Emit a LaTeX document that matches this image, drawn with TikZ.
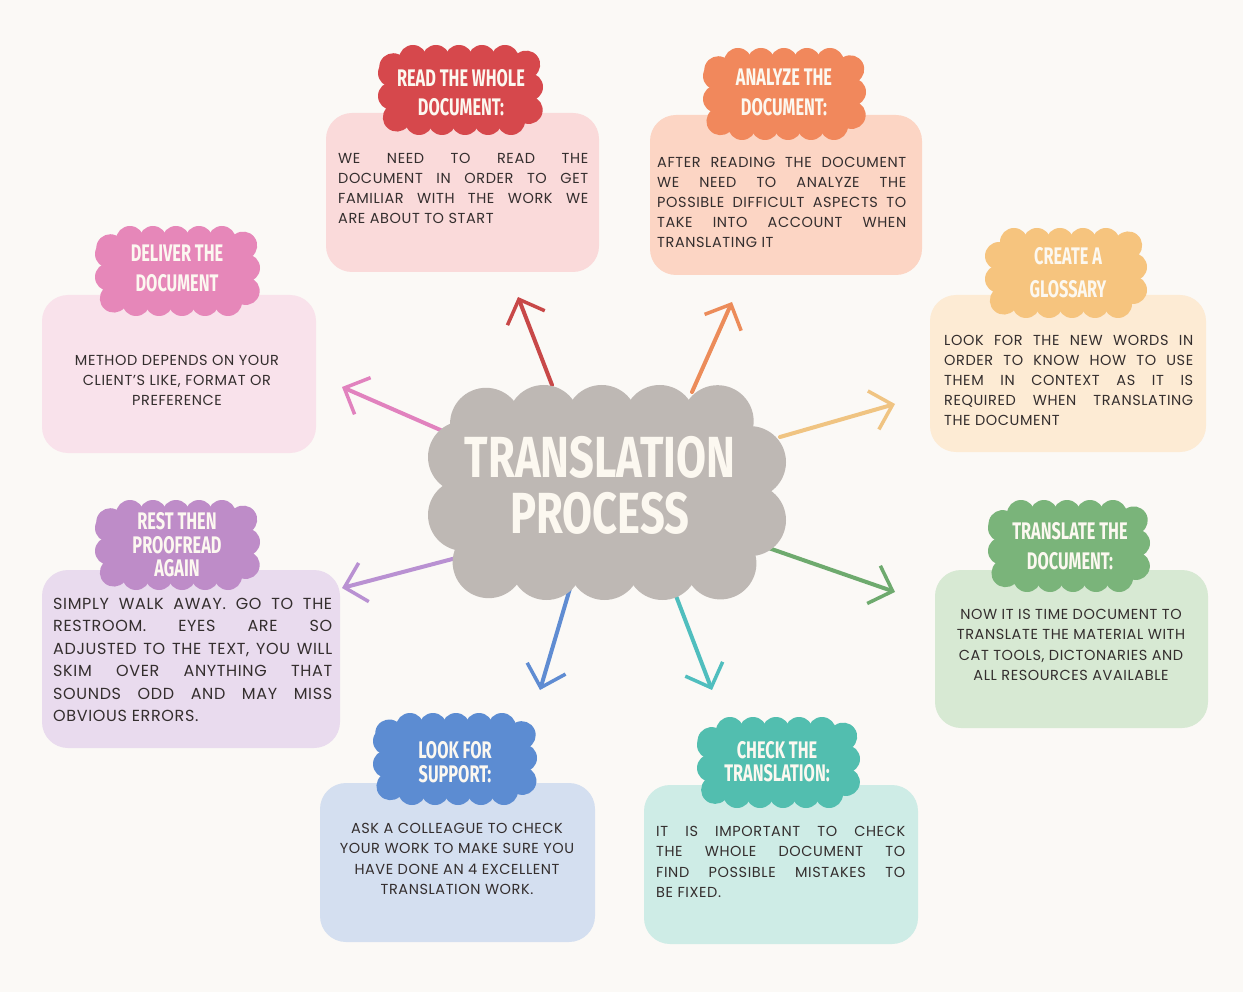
\documentclass[tikz,border=0pt]{standalone}
\usepackage{fontspec}
\setmainfont{Poppins}[LetterSpace=4]
\newfontfamily\headfont[FakeStretch=0.68]{Fira Sans}
\newfontfamily\titlefont[FakeStretch=0.75]{Fira Sans}
\usetikzlibrary{arrows.meta,decorations.markings}

\definecolor{paper}{RGB}{251,249,246}
\definecolor{ink}{RGB}{52,46,46}
\definecolor{headink}{RGB}{252,248,240}
\definecolor{cgrey}{RGB}{190,184,180}
% heading clouds
\definecolor{cred}{RGB}{214,72,76}
\definecolor{corange}{RGB}{241,136,92}
\definecolor{cyellow}{RGB}{246,196,126}
\definecolor{cpink}{RGB}{230,135,185}
\definecolor{cpurple}{RGB}{190,140,200}
\definecolor{cgreen}{RGB}{122,180,122}
\definecolor{cblue}{RGB}{92,140,210}
\definecolor{cteal}{RGB}{82,190,175}
% card fills
\definecolor{fred}{RGB}{250,218,218}
\definecolor{forange}{RGB}{252,213,196}
\definecolor{fyellow}{RGB}{253,235,212}
\definecolor{fpink}{RGB}{249,226,235}
\definecolor{fpurple}{RGB}{233,219,238}
\definecolor{fgreen}{RGB}{215,233,211}
\definecolor{fblue}{RGB}{212,223,240}
\definecolor{fteal}{RGB}{206,236,230}
% arrows
\definecolor{ared}{RGB}{200,72,72}
\definecolor{aorange}{RGB}{236,140,90}
\definecolor{apink}{RGB}{225,130,190}
\definecolor{ayellow}{RGB}{240,196,130}
\definecolor{apurple}{RGB}{185,145,210}
\definecolor{agreen}{RGB}{110,170,110}
\definecolor{ablue}{RGB}{95,140,210}
\definecolor{ateal}{RGB}{80,190,190}

% scalloped cloud: colour, bounding box (x1,y1,x2,y2), bump radius, bump spacing
\newcommand{\puff}[7]{%
  \pgfmathsetmacro{\cxa}{#2+#6}\pgfmathsetmacro{\cya}{#3+#6}%
  \pgfmathsetmacro{\cxb}{#4-#6}\pgfmathsetmacro{\cyb}{#5-#6}%
  \path[fill=#1, rounded corners=#6pt, postaction={decorate},
        decoration={markings, mark=between positions 0 and 0.999 step #7pt with
          {\fill[#1] (0,0) circle (#6pt);}}]
    (\cxa,\cya) rectangle (\cxb,\cyb);
}
% justified line of fixed width
\newcommand{\jl}[2]{\makebox[#1][s]{#2}}

% multi-line nodes are placed by the baseline of their last line
\tikzset{
  card/.style={rounded corners=26pt, inner sep=0pt, draw=none},
  headsty/.style={font=\headfont\bfseries\fontsize{24}{#1}\selectfont, text=headink,
                  align=center, anchor=base, inner sep=0pt},
  bodyjust/.style={font=\fontsize{14.5}{#1}\selectfont, text=ink, align=left,
                   anchor=base west, inner sep=0pt},
  bodymid/.style={font=\fontsize{14.5}{#1}\selectfont, text=ink, align=center,
                  anchor=base, inner sep=0pt},
  arr/.style={line width=4pt, line cap=round,
              -{Straight Barb[length=20pt,width=40pt,line width=3.5pt]}},
}

\begin{document}
\begin{tikzpicture}[x=1pt,y=-1pt]
\useasboundingbox (0,0) rectangle (1243,992);
\fill[paper] (0,0) rectangle (1243,992);

% ---- arrows from the central cloud ----
\coordinate (s1) at (552,385); \coordinate (e1) at (518,297);
\coordinate (s2) at (692,392); \coordinate (e2) at (732,302);
\coordinate (s3) at (445,432); \coordinate (e3) at (342,387);
\coordinate (s4) at (780,437); \coordinate (e4) at (895,404);
\coordinate (s5) at (460,557); \coordinate (e5) at (342,588);
\coordinate (s6) at (760,545); \coordinate (e6) at (895,592);
\coordinate (s7) at (576,568); \coordinate (e7) at (540,690);
\coordinate (s8) at (673,588); \coordinate (e8) at (712,690);
\draw[arr, ared] (s1) -- (e1);
\draw[arr, aorange] (s2) -- (e2);
\draw[arr, apink] (s3) -- (e3);
\draw[arr, ayellow] (s4) -- (e4);
\draw[arr, apurple] (s5) -- (e5);
\draw[arr, agreen] (s6) -- (e6);
\draw[arr, ablue] (s7) -- (e7);
\draw[arr, ateal] (s8) -- (e8);

% ---- central cloud ----
\puff{cgrey}{428}{385}{786}{600}{36}{58}
\node[font=\titlefont\bfseries\fontsize{58}{56}\selectfont, text=headink, align=center,
      anchor=base, inner sep=0pt] (title) at (600,533) {TRANSLATION\\PROCESS};

% ---- cards ----
\node[card, fill=fred, minimum width=273pt, minimum height=159pt] (b1) at (462.5,192.5) {};
\node[card, fill=forange, minimum width=272pt, minimum height=160pt] (b2) at (786,195) {};
\node[card, fill=fyellow, minimum width=276pt, minimum height=157pt] (b3) at (1068,373.5) {};
\node[card, fill=fpink, minimum width=274pt, minimum height=158pt] (b4) at (179,374) {};
\node[card, fill=fpurple, minimum width=298pt, minimum height=178pt] (b5) at (191,659) {};
\node[card, fill=fgreen, minimum width=273pt, minimum height=158pt] (b6) at (1071.5,649) {};
\node[card, fill=fblue, minimum width=275pt, minimum height=159pt] (b7) at (457.5,862.5) {};
\node[card, fill=fteal, minimum width=274pt, minimum height=159pt] (b8) at (781,864.5) {};

% ---- heading clouds ----
\puff{cred}{378}{45}{543}{135}{14}{23}
\puff{corange}{703}{48}{866}{140}{14}{23}
\puff{cyellow}{985}{228}{1147}{318}{14}{23}
\puff{cpink}{95}{226}{260}{316}{14}{23}
\puff{cpurple}{95}{500}{260}{590}{14}{23}
\puff{cgreen}{988}{500}{1150}{592}{14}{23}
\puff{cblue}{373}{713}{537}{805}{14}{23}
\puff{cteal}{697}{717}{860}{808}{14}{23}

\node[headsty=29] (h1) at (461,115.5) {READ THE WHOLE\\DOCUMENT:};
\node[headsty=30] (h2) at (784,115.5) {ANALYZE THE\\DOCUMENT:};
\node[headsty=33] (h3) at (1068,297.5) {CREATE A\\GLOSSARY};
\node[headsty=30] (h4) at (177,291.5) {DELIVER THE\\DOCUMENT};
\node[headsty=23.5] (h5) at (177,576.5) {REST THEN\\PROOFREAD\\AGAIN};
\node[headsty=30] (h6) at (1070,569.5) {TRANSLATE THE\\DOCUMENT:};
\node[headsty=24] (h7) at (455,782.5) {LOOK FOR\\SUPPORT:};
\node[headsty=23] (h8) at (777,781.5) {CHECK THE\\TRANSLATION:};

% ---- card texts ----
\node[bodyjust=20] (t1) at (338,223.5) {%
  \jl{250pt}{WE NEED TO READ THE}\\
  \jl{250pt}{DOCUMENT IN ORDER TO GET}\\
  \jl{250pt}{FAMILIAR WITH THE WORK WE}\\
  ARE ABOUT TO START};
\node[bodyjust=20] (t2) at (657,247.5) {%
  \jl{249pt}{AFTER READING THE DOCUMENT}\\
  \jl{249pt}{WE NEED TO ANALYZE THE}\\
  \jl{249pt}{POSSIBLE DIFFICULT ASPECTS TO}\\
  \jl{249pt}{TAKE INTO ACCOUNT WHEN}\\
  TRANSLATING IT};
\node[bodyjust=20] (t3) at (944,425.5) {%
  \jl{249pt}{LOOK FOR THE NEW WORDS IN}\\
  \jl{249pt}{ORDER TO KNOW HOW TO USE}\\
  \jl{249pt}{THEM IN CONTEXT AS IT IS}\\
  \jl{249pt}{REQUIRED WHEN TRANSLATING}\\
  THE DOCUMENT};
\node[bodymid=20] (t4) at (177,405.5) {%
  METHOD DEPENDS ON YOUR\\
  CLIENT'S LIKE, FORMAT OR\\
  PREFERENCE};
\node[bodyjust=22.4, font=\fontsize{16}{22.4}\selectfont] (t5) at (53,721.5) {%
  \jl{279pt}{SIMPLY WALK AWAY. GO TO THE}\\
  \jl{279pt}{RESTROOM. EYES ARE SO}\\
  \jl{279pt}{ADJUSTED TO THE TEXT, YOU WILL}\\
  \jl{279pt}{SKIM OVER ANYTHING THAT}\\
  \jl{279pt}{SOUNDS ODD AND MAY MISS}\\
  OBVIOUS ERRORS.};
\node[bodymid=20.3] (t6) at (1071,680.4) {%
  NOW IT IS TIME DOCUMENT TO\\
  TRANSLATE THE MATERIAL WITH\\
  CAT TOOLS, DICTONARIES AND\\
  ALL RESOURCES AVAILABLE};
\node[bodymid=20.3] (t7) at (457,894.4) {%
  ASK A COLLEAGUE TO CHECK\\
  YOUR WORK TO MAKE SURE YOU\\
  HAVE DONE AN 4 EXCELLENT\\
  TRANSLATION WORK.};
\node[bodyjust=20.3] (t8) at (656,897.4) {%
  \jl{249pt}{IT IS IMPORTANT TO CHECK}\\
  \jl{249pt}{THE WHOLE DOCUMENT TO}\\
  \jl{249pt}{FIND POSSIBLE MISTAKES TO}\\
  BE FIXED.};
\end{tikzpicture}
\end{document}
